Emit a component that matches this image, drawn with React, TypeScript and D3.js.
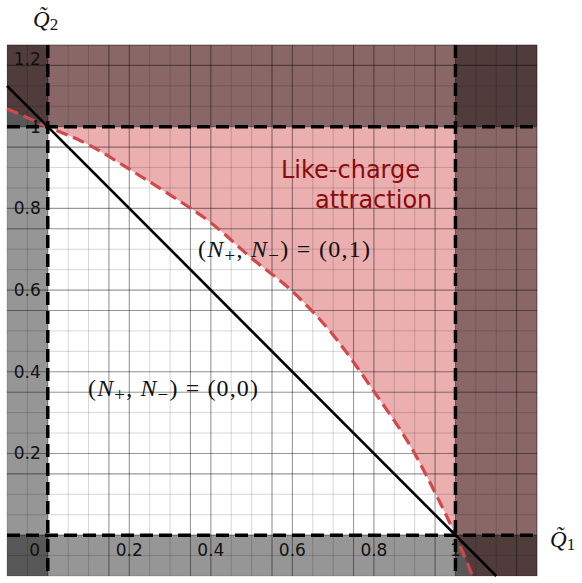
import React from 'react';
import * as d3 from 'd3';

// axis ranges and tick labels
const q1Domain = [-0.1, 1.2];
const q2Domain = [-0.1, 1.2];
const xTickValues = [0, 0.2, 0.4, 0.6, 0.8, 1];
const xTickLabels = ['0', '0.2', '0.4', '0.6', '0.8', '1'];
const yTickValues = [0.2, 0.4, 0.6, 0.8, 1, 1.2];
const yTickLabels = ['0.2', '0.4', '0.6', '0.8', '1', '1.2'];

// like-charge attraction boundary
const boundaryQ1 = [-0.1, 0, 0.1, 0.2, 0.3, 0.4, 0.5, 0.6, 0.7, 0.8, 0.9, 0.95, 1, 1.042];
const boundaryQ2 = [1.044, 1, 0.956, 0.896, 0.833, 0.765, 0.678, 0.597, 0.49, 0.352, 0.2, 0.104, 0, -0.1];

// N+ + N- transition line
const lineQ1 = [-0.1, 1.1];
const lineQ2 = [1.1, -0.1];

// unphysical bands: [q1 from, q1 to, q2 from, q2 to]
const bandsQ1From = [-0.1, -0.1, 1, -0.1];
const bandsQ1To = [0, 1.2, 1.2, 1.2];
const bandsQ2From = [-0.1, -0.1, -0.1, 1];
const bandsQ2To = [1.2, 0, 1.2, 1.2];

const width = 582;
const height = 583;

export default function App() {
  const x = d3.scaleLinear().domain(q1Domain).range([7, 537]);
  const y = d3.scaleLinear().domain(q2Domain).range([576, 45]);

  const minor = d3.range(0, 27).map((i) => Math.round((-0.1 + i * 0.05) * 100) / 100);
  const major = minor.filter((v) => Math.abs(Math.round(v * 10) % 2) === 0 && v >= 0);

  const boundary = boundaryQ1.map((q, i) => [q, boundaryQ2[i]] as [number, number]);
  const line = d3.line<[number, number]>()
    .x((d) => x(d[0]))
    .y((d) => y(d[1]))
    .curve(d3.curveMonotoneX);
  const boundaryPath = line(boundary) || '';
  const pinkPath = boundaryPath +
    `L${x(1.2)},${y(-0.1)}L${x(1.2)},${y(1.2)}L${x(-0.1)},${y(1.2)}Z`;

  const diag = d3.line<number>()
    .x((_, i) => x(lineQ1[i]))
    .y((_, i) => y(lineQ2[i]))(lineQ1) || '';

  const tickFont = '"DejaVu Sans", sans-serif';
  const mathFont = '"Liberation Serif", "Times New Roman", serif';

  return (
    <svg width={width} height={height} style={{ position: 'absolute', left: 0, top: 0 }}>
      <rect x={0} y={0} width={width} height={height} fill="#fff" />
      <path d={pinkPath} fill="#ebafb0" />
      {bandsQ1From.map((_, i) => (
        <rect key={i}
          x={x(bandsQ1From[i])} y={y(bandsQ2To[i])}
          width={x(bandsQ1To[i]) - x(bandsQ1From[i])}
          height={y(bandsQ2From[i]) - y(bandsQ2To[i])}
          fill="#000" fillOpacity={0.41} />
      ))}
      {/* grid */}
      <g>
        {minor.map((v) => (
          <line key={'vx' + v} x1={x(v)} x2={x(v)} y1={y(1.2)} y2={y(-0.1)}
            stroke="#000" strokeOpacity={0.16} strokeWidth={1} />
        ))}
        {minor.map((v) => (
          <line key={'hy' + v} y1={y(v)} y2={y(v)} x1={x(-0.1)} x2={x(1.2)}
            stroke="#000" strokeOpacity={0.16} strokeWidth={1} />
        ))}
        {major.map((v) => (
          <line key={'mx' + v} x1={x(v)} x2={x(v)} y1={y(1.2)} y2={y(-0.1)}
            stroke="#000" strokeOpacity={0.3} strokeWidth={1.1} />
        ))}
        {major.map((v) => (
          <line key={'my' + v} y1={y(v)} y2={y(v)} x1={x(-0.1)} x2={x(1.2)}
            stroke="#000" strokeOpacity={0.3} strokeWidth={1.1} />
        ))}
      </g>
      {/* tick labels */}
      <g fontFamily={tickFont} fontSize={17} fill="#111">
        {xTickValues.map((v, i) => (
          <text key={'xt' + v} x={v === 0 ? x(v) - 13 : x(v)} y={y(0) + 21} textAnchor="middle">
            {xTickLabels[i]}
          </text>
        ))}
        {yTickValues.map((v, i) => (
          <text key={'yt' + v} x={x(0) - 7} y={Math.max(y(v), y(1.2) + 14) + 6} textAnchor="end">
            {yTickLabels[i]}
          </text>
        ))}
      </g>
      {/* boundary curve */}
      <path d={boundaryPath} fill="none" stroke="#d0494c" strokeWidth={3.2} strokeDasharray="12 6" />
      {/* dashed axes at 0 and 1 */}
      <g stroke="#000" strokeWidth={3.5} strokeDasharray="13 6">
        <line x1={x(0)} x2={x(0)} y1={y(1.2)} y2={y(-0.1)} />
        <line x1={x(1)} x2={x(1)} y1={y(1.2)} y2={y(-0.1)} />
        <line y1={y(0)} y2={y(0)} x1={x(-0.1)} x2={x(1.2)} />
        <line y1={y(1)} y2={y(1)} x1={x(-0.1)} x2={x(1.2)} />
      </g>
      <path d={diag} fill="none" stroke="#000" strokeWidth={2.6} />
      {/* annotations */}
      <g fontFamily='"DejaVu Sans", sans-serif' fontSize={24} fill="#8b0a0c">
        <text x={281} y={178}>Like-charge</text>
        <text x={315} y={208}>attraction</text>
      </g>
      <g fontFamily={mathFont} fontSize={24} fill="#111">
        <text x={198} y={257} textLength={172} lengthAdjust="spacing">
          (<tspan fontStyle="italic">N</tspan><tspan fontSize={19} dy={5}>+</tspan>
          <tspan dy={-5}>, </tspan><tspan fontStyle="italic">N</tspan>
          <tspan fontSize={19} dy={5}>−</tspan><tspan dy={-5}>) = (0,1)</tspan>
        </text>
        <text x={88} y={396} textLength={170} lengthAdjust="spacing">
          (<tspan fontStyle="italic">N</tspan><tspan fontSize={19} dy={5}>+</tspan>
          <tspan dy={-5}>, </tspan><tspan fontStyle="italic">N</tspan>
          <tspan fontSize={19} dy={5}>−</tspan><tspan dy={-5}>) = (0,0)</tspan>
        </text>
      </g>
      <g fontFamily={mathFont} fill="#111">
        <text x={33} y={27} fontSize={23}>
          <tspan fontStyle="italic">{'Q\u0303'}</tspan><tspan fontSize={17} dy={3}>2</tspan>
        </text>
        <text x={550} y={547} fontSize={23}>
          <tspan fontStyle="italic">{'Q\u0303'}</tspan><tspan fontSize={17} dy={3}>1</tspan>
        </text>
      </g>
    </svg>
  );
}
